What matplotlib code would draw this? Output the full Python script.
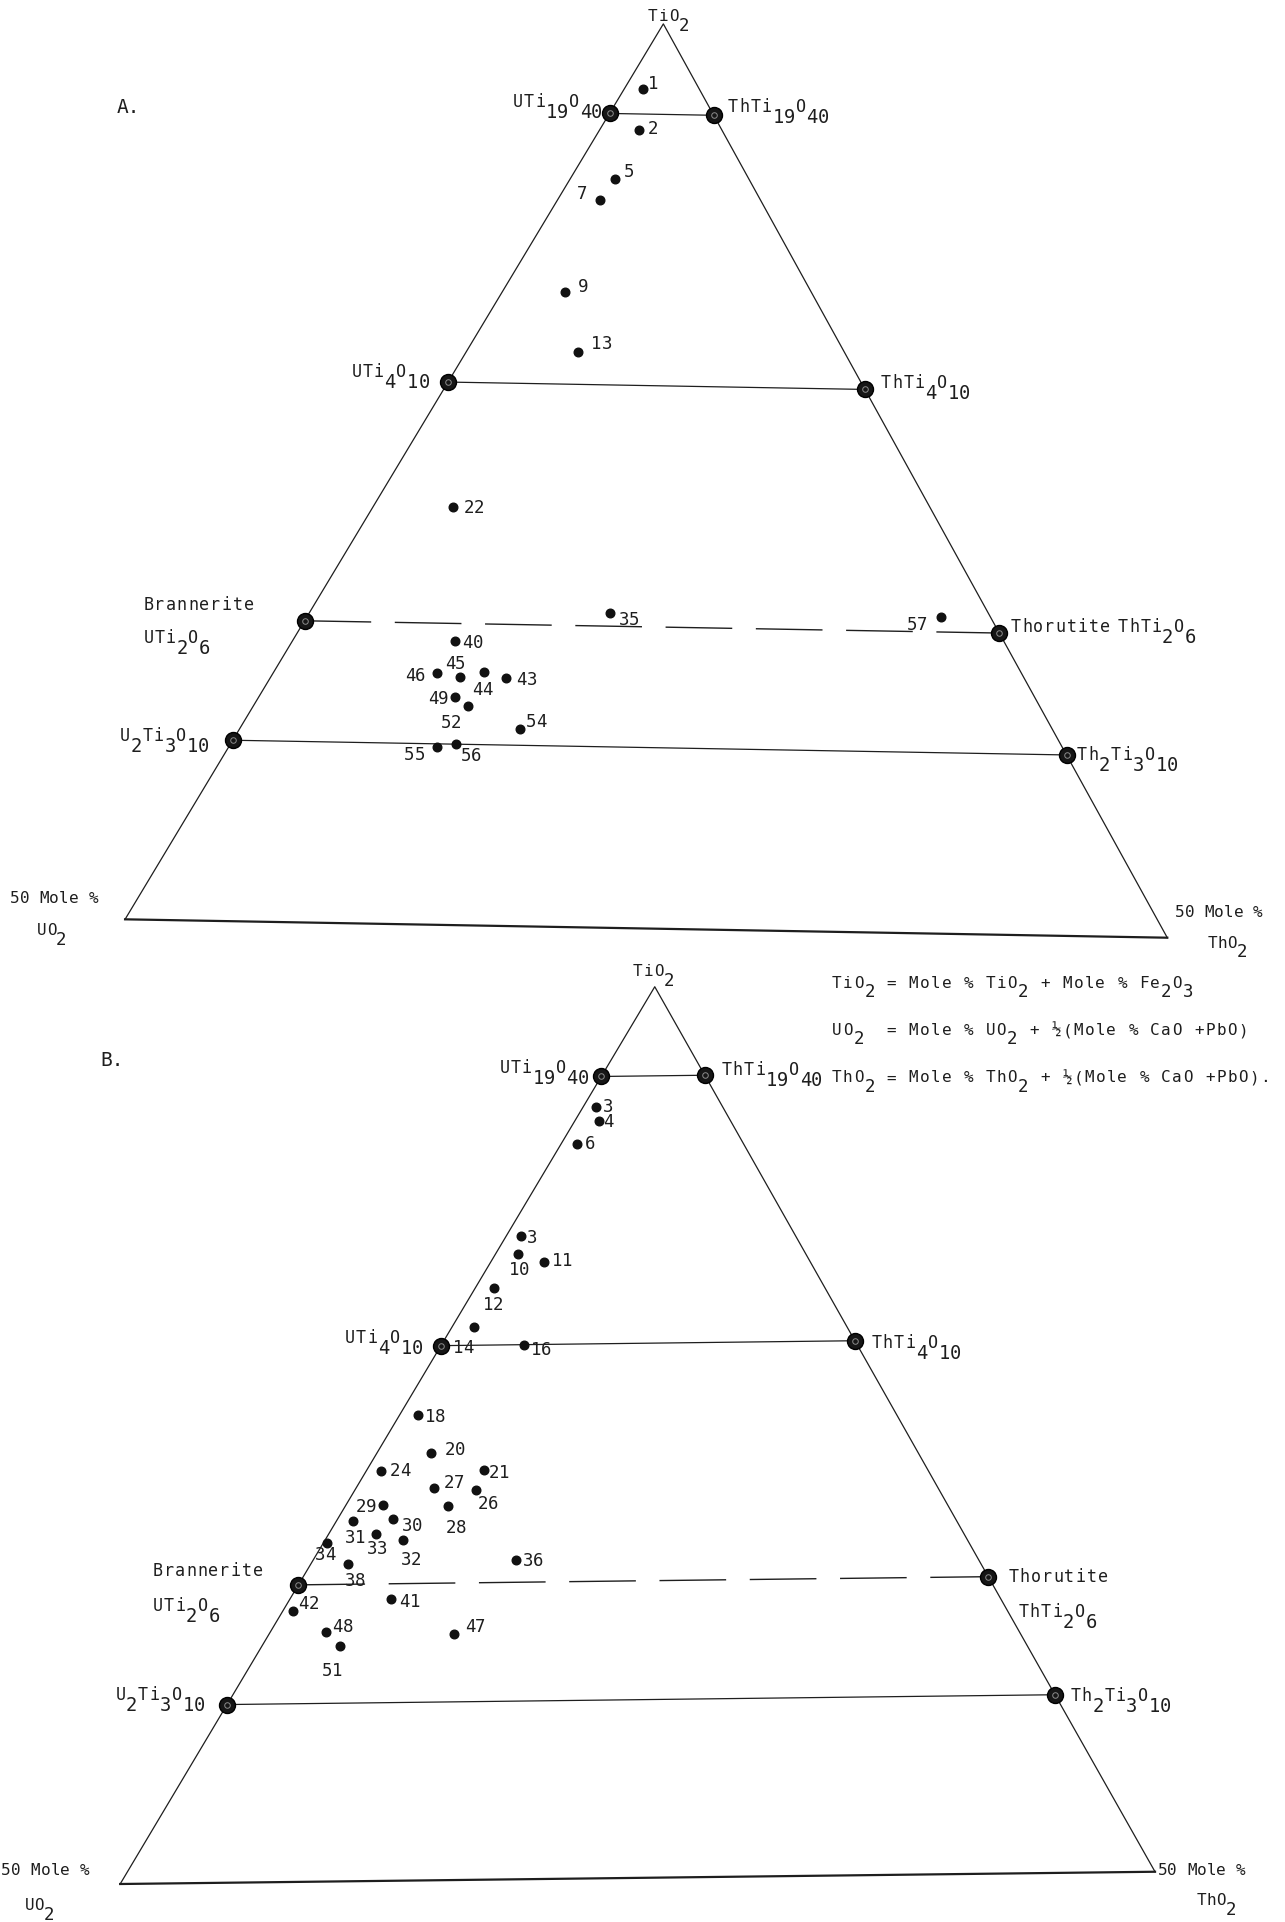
import re
import numpy as np
import matplotlib.pyplot as plt

plt.rcParams["font.family"] = ["DejaVu Sans Mono", "DejaVu Sans"]

# Sample compositions (mole %) - diagram A
a_ids = ["1", "2", "5", "7", "9", "13", "22", "35", "57", "40", "43", "44",
         "45", "46", "49", "52", "54", "55", "56"]
a_tio2 = [96.4, 94.1, 91.4, 90.2, 85.1, 81.8, 73.1, 67.4, 67.5, 65.7, 63.7, 64.0,
          63.7, 63.9, 62.6, 62.1, 60.9, 59.8, 60.0]
a_uo2 = [2.7, 4.0, 6.5, 7.8, 11.9, 12.9, 23.1, 18.3, 2.4, 26.6, 25.1, 26.0,
         27.3, 28.3, 28.1, 27.7, 25.8, 30.3, 29.3]
a_tho2 = [0.9, 1.9, 2.1, 2.0, 3.0, 5.3, 3.8, 14.3, 30.1, 7.7, 11.2, 10.0,
          9.0, 7.8, 9.3, 10.2, 13.3, 9.9, 10.7]

# Sample compositions (mole %) - diagram B
b_ids = ["3", "4", "6", "3", "10", "11", "12", "14", "16", "18", "20", "21",
         "24", "26", "27", "28", "29", "30", "31", "32", "33", "34", "36", "38",
         "41", "42", "47", "48", "51"]
b_tio2 = [93.3, 92.5, 91.2, 86.1, 85.1, 84.6, 83.2, 81.0, 80.0, 76.1, 74.0, 73.0,
          73.0, 71.9, 72.0, 71.0, 71.1, 70.3, 70.2, 69.1, 69.5, 69.0, 67.9, 67.8,
          65.8, 65.2, 63.8, 64.0, 63.2]
b_uo2 = [6.1, 6.3, 8.0, 13.2, 13.8, 12.8, 15.9, 17.9, 16.0, 23.0, 23.4, 21.3,
         26.3, 22.2, 24.2, 24.0, 27.1, 27.0, 29.0, 27.1, 28.2, 30.8, 22.2, 30.4,
         29.3, 34.3, 27.2, 33.3, 33.0]
b_tho2 = [0.6, 1.2, 0.8, 0.7, 1.1, 2.6, 0.9, 1.1, 4.0, 0.9, 2.6, 5.7,
          0.7, 5.9, 3.8, 5.0, 1.8, 2.7, 0.8, 3.8, 2.3, 0.2, 9.9, 1.8,
          4.9, 0.5, 9.0, 2.7, 3.8]

# Titanate end members on the two joins (mole % TiO2)
member_tio2 = [95.0, 80.0, 66.67, 60.0]
u_members = ["UTi$_{19}$O$_{40}$", "UTi$_4$O$_{10}$", "UTi$_2$O$_6$", "U$_2$Ti$_3$O$_{10}$"]
th_members = ["ThTi$_{19}$O$_{40}$", "ThTi$_4$O$_{10}$", "ThTi$_2$O$_6$", "Th$_2$Ti$_3$O$_{10}$"]
mineral_names = ["Brannerite", "Thorutite"]
dashed_level = 66.67

legend_lines = [
    "TiO$_2$ = Mole % TiO$_2$ + Mole % Fe$_2$O$_3$",
    "UO$_2$  = Mole % UO$_2$ + ½(Mole % CaO +PbO)",
    "ThO$_2$ = Mole % ThO$_2$ + ½(Mole % CaO +PbO).",
]

INK = "#1e1e1e"

# ---- layout (axes units) ----
layout_a = dict(
    apex=(541, 19.5), bl=(102, 750), br=(952, 765), letter=("A.", 95, 92),
    apex_lab=(-13, -2.5),
    corner_l=[(-94, -13), (-72, 13)], corner_r=[(6, -17), (33, 8)],
    u=[(-6, -5.5, "right"), (-15, -4.5, "right"), (-132, 18, "left"), (-19, 1, "right")],
    th=[(11, -3, "left"), (12.5, -1, "left"), (96, -0.5, "left"), (8, 4, "left")],
    u_name=(-132, -9), th_name=(9, -0.5),
    dashes=(48, 17),
    labels={"1": (4, 0), "2": (7, 3), "5": (8, -1), "7": (-10, -1, "right"),
            "9": (10, 0), "13": (11, -2), "22": (9, 5), "35": (7, 10),
            "57": (-11, 11, "right"), "40": (6.5, 6), "43": (8.5, 6),
            "44": (-10, 18.5), "45": (-12.5, -6.5), "46": (-9.5, 6, "right"),
            "49": (-5, 6, "right"), "52": (-22, 17.5), "54": (5.5, -2),
            "55": (-10, 10, "right"), "56": (4, 14)},
)
layout_b = dict(
    apex=(534, 805), bl=(98, 1537), br=(942, 1527), letter=("B.", 82, 870),
    apex_lab=(-18, -9),
    corner_l=[(-97, -7), (-78, 21)], corner_r=[(2, 3), (34, 27)],
    u=[(-10, -3, "right"), (-14.5, -2.5, "right"), (-119.5, 21.5, "left"), (-18, -4, "right")],
    th=[(13, 0, "left"), (13, 6, "left"), (24, 33, "left"), (12, 5, "left")],
    u_name=(-119.5, -7), th_name=(16, 4),
    dashes=(48, 17),
    labels=[(6, 4), (3, 5), (6, 4), (5.5, 6), (-7.5, 17.5), (6.5, 3), (-9, 18),
            (-17, 21), (6, 8.5), (6, 5.5), (12, 2), (4, 7), (8, 4), (1.5, 16),
            (8, 0), (-2, 22), (-22.5, 5.5), (7.5, 10), (-6.5, 17.5), (-1.5, 20.5),
            (-7.5, 17), (-10, 13.5), (5, 4.5), (-2, 18), (7.5, 6.5), (4.5, -2),
            (9, -2), (5.5, 0), (-15, 24)],
)

# lettering styles: pitch per character, letter size, subscript size, subscript drop
FORMULA = dict(pitch=9.2, fs=12, sub_fs=13.5, drop=9.0)
WORD = dict(pitch=9.1, fs=12)
NUMBER = dict(pitch=8.3, fs=12.5)
CORNER = dict(pitch=8.0, fs=11.5, sub_fs=12.5, drop=8.0)
LEGEND = dict(pitch=8.95, fs=11.5, sub_fs=12.5, drop=7.5)


def typed(ax, x, y, s, ha="left", pitch=9.0, fs=12, sub_fs=None, drop=8.0):
    """Typewriter-style lettering: fixed pitch, subscripts dropped below the line."""
    parts = re.split(r"\$_\{?([^}$]*)\}?\$", s)
    chars = []
    for k, part in enumerate(parts):
        chars += [(c, k % 2 == 1) for c in part]
    n = len(chars)
    x0 = x - n * pitch if ha == "right" else (x - n * pitch / 2 if ha == "center" else x)
    for i, (c, sub) in enumerate(chars):
        if c == " ":
            continue
        ax.text(x0 + (i + 0.5) * pitch, y + (drop if sub else 0), c,
                fontsize=(sub_fs or fs) if sub else fs, color=INK,
                ha="center", va="baseline")


def tern_xy(tio2, uo2, tho2, apex, bl, br):
    """Map TiO2-UO2-ThO2 mole % onto the triangle whose base is 50 % TiO2."""
    tio2, uo2, tho2 = (np.asarray(v, dtype=float) for v in (tio2, uo2, tho2))
    total = tio2 + uo2 + tho2
    t = 2 * (uo2 + tho2) / total
    q = 2 * tho2 / total
    x = apex[0] + t * (bl[0] - apex[0]) + q * (br[0] - bl[0])
    y = apex[1] + t * (bl[1] - apex[1]) + q * (br[1] - bl[1])
    return x, y


def member_marker(ax, x, y):
    ax.plot(x, y, "o", ls="none", ms=11.5, mfc="#161616", mec="black", mew=1.0, zorder=5)
    ax.plot(x, y, "o", ls="none", ms=4.0, mfc="none", mec="#8c8c8c", mew=0.7, zorder=6)


def draw_diagram(ax, lay, ids, tio2, uo2, tho2):
    apex, bl, br = lay["apex"], lay["bl"], lay["br"]

    def xy(t, u, th):
        return tern_xy(t, u, th, apex, bl, br)

    # outline
    cx, cy = xy([100, 50, 50], [0, 50, 0], [0, 0, 50])
    ax.plot([cx[1], cx[0], cx[2]], [cy[1], cy[0], cy[2]], color=INK, lw=0.9)
    ax.plot([cx[1], cx[2]], [cy[1], cy[2]], color=INK, lw=1.6)

    typed(ax, cx[0] + lay["apex_lab"][0], cy[0] + lay["apex_lab"][1], "TiO$_2$",
          pitch=8.5, fs=11.5, sub_fs=12.5, drop=8.0)
    for (dx, dy), s in zip(lay["corner_l"], ["50 Mole %", "UO$_2$"]):
        typed(ax, cx[1] + dx, cy[1] + dy, s, **CORNER)
    for (dx, dy), s in zip(lay["corner_r"], ["50 Mole %", "ThO$_2$"]):
        typed(ax, cx[2] + dx, cy[2] + dy, s, **CORNER)
    letter, lx, ly = lay["letter"]
    ax.text(lx, ly, letter, fontsize=14, color=INK, va="baseline")

    # tie lines between U and Th titanates
    for i, p in enumerate(member_tio2):
        ux, uy = xy(p, 100 - p, 0)
        tx, ty = xy(p, 0, 100 - p)
        if p == dashed_level:
            ax.plot([ux, tx], [uy, ty], color=INK, lw=1.0, dashes=lay["dashes"])
        else:
            ax.plot([ux, tx], [uy, ty], color=INK, lw=0.9)
        member_marker(ax, [ux, tx], [uy, ty])

        dx, dy, ha = lay["u"][i]
        typed(ax, ux + dx, uy + dy, u_members[i], ha=ha, **FORMULA)
        dx, dy, ha = lay["th"][i]
        typed(ax, tx + dx, ty + dy, th_members[i], ha=ha, **FORMULA)
        if p == dashed_level:
            nx, ny = lay["u_name"]
            typed(ax, ux + nx, uy + ny, mineral_names[0], **WORD)
            nx, ny = lay["th_name"]
            typed(ax, tx + nx, ty + ny, mineral_names[1], **WORD)

    # analysed samples
    px, py = xy(tio2, uo2, tho2)
    ax.plot(px, py, "o", ls="none", ms=6.2, color="#111111", zorder=7)
    labs = lay["labels"]
    for i, name in enumerate(ids):
        off = labs[name] if isinstance(labs, dict) else labs[i]
        ha = off[2] if len(off) > 2 else "left"
        typed(ax, px[i] + off[0], py[i] + off[1], name, ha=ha, **NUMBER)


fig = plt.figure(figsize=(12.85, 19.22), dpi=100)
ax = fig.add_axes([0, 0, 1, 1])
ax.set_xlim(0, 1048)
ax.set_ylim(1568, 0)
ax.axis("off")

draw_diagram(ax, layout_a, a_ids, a_tio2, a_uo2, a_tho2)
draw_diagram(ax, layout_b, b_ids, b_tio2, b_uo2, b_tho2)

for k, line in enumerate(legend_lines):
    typed(ax, 678, 806 + 38.5 * k, line, **LEGEND)

fig.savefig("out.png", dpi=100)
